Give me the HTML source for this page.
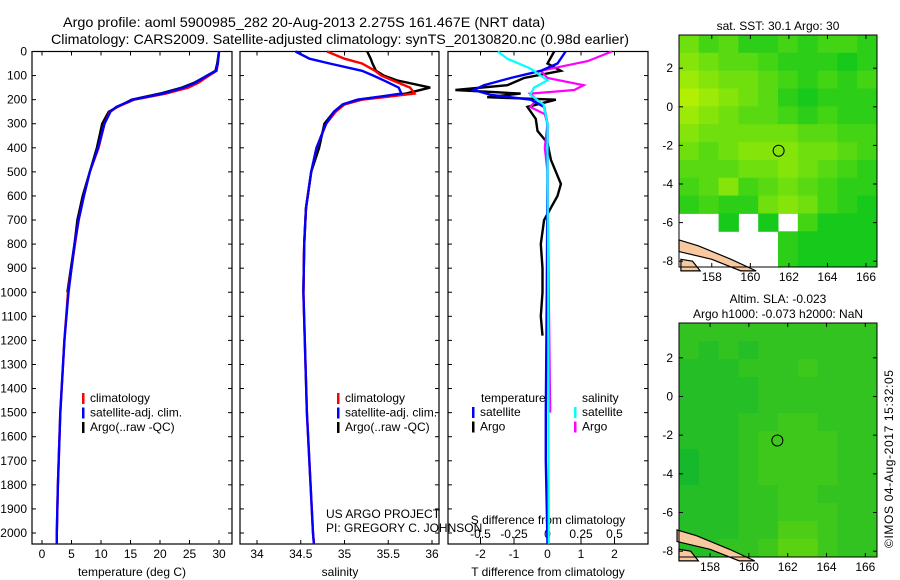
<!DOCTYPE html>
<html><head><meta charset="utf-8"><style>
body{margin:0;background:#fff;width:900px;height:580px;overflow:hidden}
svg{display:block;font-family:"Liberation Sans",sans-serif}
text{fill:#000}
</style></head><body>
<svg id="c" width="900" height="580" xmlns="http://www.w3.org/2000/svg">
<text x="63" y="27" font-size="14" textLength="482" lengthAdjust="spacingAndGlyphs">Argo profile: aoml 5900985_282 20-Aug-2013 2.275S 161.467E (NRT data)</text>
<text x="51" y="44" font-size="14" textLength="578" lengthAdjust="spacingAndGlyphs">Climatology: CARS2009. Satellite-adjusted climatology: synTS_20130820.nc (0.98d earlier)</text>
<text transform="translate(893,548) rotate(-90)" font-size="12" textLength="178">©IMOS 04-Aug-2017 15:32:05</text>
<g id="g"></g>
</svg>
<script>
// ---- profile data ----
const tDepth = [0,50,80,100,130,150,175,200,230,250,300,400,500,600,700,800,900,1000,1200,1500,1800,2000,2045];
const tClim  = [30,29.8,29.6,28.3,26.5,24.8,21,15.6,12.8,11.5,10.6,9.6,8.1,7.1,6.2,5.6,5.0,4.4,3.8,3.1,2.7,2.5,2.5];
const tSat   = [30,29.8,29.5,28,26,24,20.5,15.4,12.6,11.6,10.6,9.5,8.1,7.1,6.2,5.5,5.0,4.5,3.8,3.1,2.7,2.5,2.5];
const tArgo  = [30,29.7,29.4,28,25.8,23.7,20,15.2,12.8,11.3,10.2,9.3,8.1,6.9,6.0,5.5,4.9,4.3];
const sDepth = [0,30,50,80,100,120,150,175,200,220,250,300,400,500,650,800,1000,1500,2000,2045];
const sClim  = [34.8,35.0,35.2,35.35,35.42,35.55,35.75,35.8,35.2,35.0,34.9,34.79,34.68,34.62,34.56,34.54,34.53,34.57,34.64,34.65];
const sSat   = [34.44,34.6,34.83,35.2,35.33,35.45,35.62,35.65,35.15,34.98,34.88,34.79,34.68,34.62,34.56,34.54,34.53,34.57,34.64,34.65];
const sArgo  = [35.26,35.3,35.32,35.36,35.45,35.6,35.98,35.7,35.15,34.98,34.88,34.77,34.71,34.62,34.56,34.54,34.53];
const dDepthB = [0,50,80,110,140,160,180,200,230,300,500,1000,1500,1700,2045];
const dTSat  = [0.54,0.3,-0.2,-1.1,-1.9,-2.2,-1.7,-0.5,-0.1,0,0,-0.02,-0.05,-0.05,0];
const dDepthK = [0,50,80,110,140,160,175,190,200,230,280,330,380,450,550,600,700,800,900,1000,1100,1180];
const dTArgo = [0.2,0,0.4,-0.7,-1.2,-2.75,-0.8,-1.8,0.25,-0.6,-0.35,-0.3,0,0.1,0.4,0.3,-0.1,-0.2,-0.15,-0.15,-0.2,-0.15];
const dDepthS = [0,30,70,100,120,150,180,220,300,500,1000,2045];
const dSSat  = [-0.37,-0.3,-0.13,-0.05,0,-0.1,-0.13,-0.03,0,0,0.005,0.01];
const dDepthM = [0,40,80,110,140,160,175,200,230,260,300,400,500,1000,1500];
const dSArgo = [0.48,0.3,-0.05,0,0.27,0.2,-0.13,-0.08,-0.13,-0.02,0,-0.02,0,0.01,0.02];
const depthTicks = [0,100,200,300,400,500,600,700,800,900,1000,1100,1200,1300,1400,1500,1600,1700,1800,1900,2000];
const tTicks = [0,5,10,15,20,25,30];
const sTicks = [34,34.5,35,35.5,36];
const dtTicks = [-2,-1,0,1,2];
const dsTicks = [-0.5,-0.25,0,0.25,0.5];
const dsTickLabels = ["-0.5","-0.25","0","0.25","0.5"];
// ---- map data (cells 1 deg, values 0..9 green->yellow, x = missing) ----
const sstRows = [
"5342232332","6544322212","7655432323","8765421222","7654432322","6555554433",
"5456665543","4445565432","3463454322","2322565321","xx1x1x3111","xxxxx21111","xxxxx21111"];
const slaRows = [
"3333333333","3232333333","2223334333","2222333333","2222333333","2223344333",
"2223444433","1223444433","1223444433","2223344333","2223344433","2223355433","2233466433"];
const argoLon = 161.467, argoLat = -2.275;

const NS="http://www.w3.org/2000/svg";
const G=document.getElementById('g');
function mk(tag,attrs,parent){const e=document.createElementNS(NS,tag);for(const k in attrs)e.setAttribute(k,attrs[k]);(parent||G).appendChild(e);return e;}
function txt(x,y,s,anchor,size,parent){const e=mk('text',{x:x,y:y,'font-size':size||12,'text-anchor':anchor||'start'},parent);e.textContent=s;return e;}

const Y0=51.5,Y1=544, yScale=d=>Y0+(d)*(533-Y0)/2000;

function panel(name,x0,x1){
  const g=mk('g',{});
  
  
  mk('rect',{x:x0,y:Y0,width:x1-x0,height:Y1-Y0,fill:'none',stroke:'#000','stroke-width':1.2},g);
  depthTicks.forEach(d=>{const y=yScale(d);
    mk('line',{x1:x0,x2:x0+4,y1:y,y2:y,stroke:'#000'},g);
    mk('line',{x1:x1,x2:x1-4,y1:y,y2:y,stroke:'#000'},g);});
  return g;
}
function line(g,xs,ds,fx,color,w,name){
  const pts=xs.map((v,i)=>fx(v).toFixed(1)+','+yScale(ds[i]).toFixed(1)).join(' ');
  const p=mk('polyline',{points:pts,fill:'none',stroke:color,'stroke-width':w||2.2},g);
  
  
}
// Panel 1 temperature
const fT=v=>42+v*(219-42)/30;
const p1=panel('temperature-panel',32,232);
depthTicks.forEach(d=>{const t=txt(27,yScale(d)+4,String(d),'end',12,p1);});
tTicks.forEach(v=>{const x=fT(v);mk('line',{x1:x,x2:x,y1:Y1,y2:Y1-4,stroke:'#000'},p1);mk('line',{x1:x,x2:x,y1:Y0,y2:Y0+4,stroke:'#000'},p1);txt(x,558,String(v),'middle',12,p1);});
txt(132,576,'temperature (deg C)','middle',12,p1);
line(p1,tArgo,tDepth,fT,'#000',2.4,'temp-argo-line');
line(p1,tClim,tDepth,fT,'#f00',2.4,'temp-climatology-line');
line(p1,tSat,tDepth,fT,'#00f',2.4,'temp-satellite-line');
function legend(g,x,y,items){items.forEach((it,i)=>{const yy=y+i*14.5;mk('rect',{x:x,y:yy-9,width:2.5,height:11,fill:it[0]},g);const t=txt(x+8,yy,it[1],'start',12,g);});}
legend(p1,82,402,[['#f00','climatology'],['#00f','satellite-adj. clim.'],['#000','Argo(..raw -QC)']]);
// Panel 2 salinity
const fS=v=>257+(v-34)*(432-257)/2;
const p2=panel('salinity-panel',240,439);
sTicks.forEach((v,i)=>{const x=fS(v);mk('line',{x1:x,x2:x,y1:Y1,y2:Y1-4,stroke:'#000'},p2);mk('line',{x1:x,x2:x,y1:Y0,y2:Y0+4,stroke:'#000'},p2);txt(x,558,String(v),'middle',12,p2);});
txt(340,576,'salinity','middle',12,p2);
line(p2,sArgo,sDepth,fS,'#000',2.4,'sal-argo-line');
line(p2,sClim,sDepth,fS,'#f00',2.4,'sal-climatology-line');
line(p2,sSat,sDepth,fS,'#00f',2.4,'sal-satellite-line');
legend(p2,337,402,[['#f00','climatology'],['#00f','satellite-adj. clim.'],['#000','Argo(..raw -QC)']]);
txt(326,518,'US ARGO PROJECT','start',12,p2);
txt(326,532,'PI: GREGORY C. JOHNSON','start',12,p2);
// Panel 3 differences
const fDT=v=>547.5+v*33.5, fDS=v=>547.5+v*134;
const p3=panel('difference-panel',448,648);
dtTicks.forEach(v=>{const x=fDT(v);mk('line',{x1:x,x2:x,y1:Y1,y2:Y1-4,stroke:'#000'},p3);txt(x,558,String(v),'middle',12,p3);});
dsTicks.forEach((v,i)=>{const x=fDS(v);mk('line',{x1:x,x2:x,y1:Y0,y2:Y0+4,stroke:'#000'},p3);mk('line',{x1:x,x2:x,y1:Y1,y2:Y1-7,stroke:'#000'},p3);txt(x,538,dsTickLabels[i],'middle',12,p3);});
txt(548,524,'S difference from climatology','middle',12,p3);
txt(548,576,'T difference from climatology','middle',12,p3);
line(p3,dTArgo,dDepthK,fDT,'#000',2.4,'tdiff-argo-line');
line(p3,dSArgo,dDepthM,fDS,'#f0f',2.2,'sdiff-argo-line');
line(p3,dTSat,dDepthB,fDT,'#00f',2.4,'tdiff-satellite-line');
line(p3,dSSat,dDepthS,fDS,'#0ff',2.2,'sdiff-satellite-line');
txt(481,402,'temperature','start',12,p3);txt(582,402,'salinity','start',12,p3);
legend(p3,472,416,[['#00f','satellite'],['#000','Argo']]);
legend(p3,574,416,[['#0ff','satellite'],['#f0f','Argo']]);

// Maps
function map(name,rows,x0,x1,y0,y1,lon0,lon1,lat0,lat1,lonPx,latPx,title,col){
  const g=mk('g',{});
  
  
  const fx=l=>x0+(l-lon0)*(x1-x0)/(lon1-lon0), fy=l=>y0+(lat0-l)*(y1-y0)/(lat0-lat1);
  mk('rect',{x:x0,y:y0,width:x1-x0,height:y1-y0,fill:'#fff'},g);
  rows.forEach((r,i)=>{for(let j=0;j<r.length;j++){const c=r[j];if(c==='x')continue;
    const v=+c/9;
    const xa=fx(lon0+j*(lon1-lon0)/r.length),xb=fx(lon0+(j+1)*(lon1-lon0)/r.length);
    const ya=y0+i*(y1-y0)/rows.length,yb=y0+(i+1)*(y1-y0)/rows.length;
    const cell=mk('rect',{x:xa.toFixed(1),y:ya.toFixed(1),width:(xb-xa+0.5).toFixed(1),height:(yb-ya+0.5).toFixed(1),fill:col(v)},g);
    
    }});
  const land=mk('path',{d:`M${fx(156.3)},${fy(-6.9)} L${fx(157.3)},${fy(-7.2)} L${fx(159)},${fy(-7.9)} L${fx(160.3)},${fy(-8.5)} L${fx(159.5)},${fy(-8.5)} L${fx(158)},${fy(-7.9)} L${fx(156.3)},${fy(-7.5)} Z M${fx(156.4)},${fy(-7.9)} L${fx(157)},${fy(-8.0)} L${fx(157.4)},${fy(-8.5)} L${fx(156.4)},${fy(-8.5)} Z`,fill:'#f8c8a0',stroke:'#000','stroke-width':1.2},g);
  
  const circ=mk('circle',{cx:fx(argoLon),cy:fy(argoLat),r:5.5,fill:'none',stroke:'#000','stroke-width':1},g);
  
  mk('rect',{x:x0,y:y0,width:x1-x0,height:y1-y0,fill:'none',stroke:'#000','stroke-width':1},g);
  lonPx.forEach(l=>{const x=fx(l);mk('line',{x1:x,x2:x,y1:y1,y2:y1-4,stroke:'#000'},g);mk('line',{x1:x,x2:x,y1:y0,y2:y0+4,stroke:'#000'},g);txt(x,y1+14,String(l),'middle',12,g);});
  latPx.forEach(l=>{const y=fy(l);mk('line',{x1:x0,x2:x0+4,y1:y,y2:y,stroke:'#000'},g);mk('line',{x1:x1,x2:x1-4,y1:y,y2:y,stroke:'#000'},g);txt(x0-6,y+4,String(l),'end',12,g);});
  title.forEach((t,i)=>txt((x0+x1)/2,y0-(title.length-i)*15+10,t,'middle',12,g));
}
const sstCol=v=>`rgb(${Math.round(0+200*v)},${Math.round(195+50*v)},${Math.round(30-30*v)})`;
const slaCol=v=>`rgb(${Math.round(10+120*v)},${Math.round(180+45*v)},${Math.round(50-50*v)})`;
const lonT=[158,160,162,164,166], latT=[2,0,-2,-4,-6,-8];
map('sst-map',sstRows,679,877,35,267,156.3,166.57,3.72,-8.3,lonT,latT,['sat. SST: 30.1  Argo: 30'],sstCol);
map('sla-map',slaRows,679,877,323,557,156.4,166.6,3.8,-8.3,lonT,latT,['Altim. SLA: -0.023','Argo h1000: -0.073 h2000: NaN'],slaCol);
</script>
</body></html>
